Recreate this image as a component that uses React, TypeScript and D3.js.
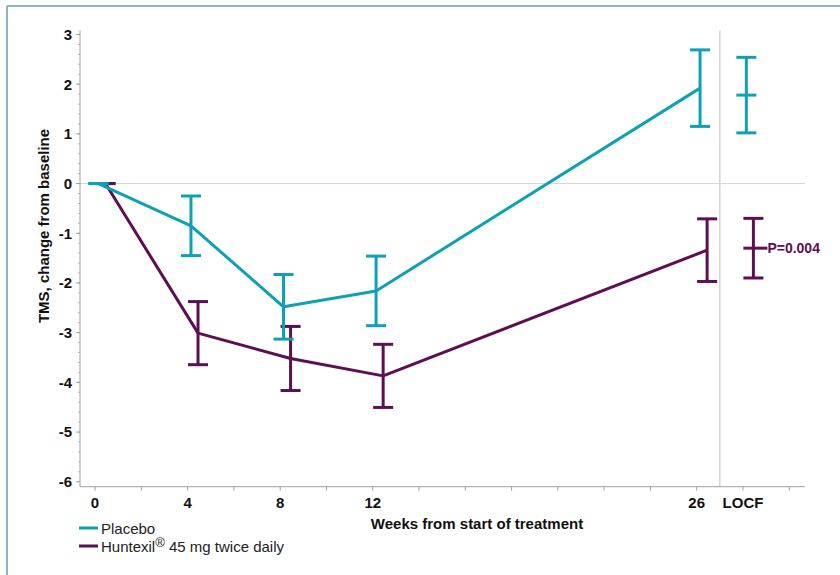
import React from "react";
import * as d3 from "d3";

const weeks = [0, 4, 8, 12, 26];
const placeboMean = [0, -0.85, -2.48, -2.16, 1.92];
const placeboErr = [0, 0.6, 0.65, 0.7, 0.77];
const huntexilMean = [0, -3.01, -3.52, -3.87, -1.34];
const huntexilErr = [0, 0.635, 0.645, 0.635, 0.63];
const locfPos = 28;
const placeboLocf = { mean: 1.78, err: 0.76 };
const huntexilLocf = { mean: -1.3, err: 0.6 };
const xTickLabels = [
  { v: 0, label: "0" },
  { v: 4, label: "4" },
  { v: 8, label: "8" },
  { v: 12, label: "12" },
  { v: 26, label: "26" },
  { v: 28, label: "LOCF" },
];
const yTicks = [3, 2, 1, 0, -1, -2, -3, -4, -5, -6];
const pValue = "P=0.004";

const TEAL = "#0ea1b4";
const PURPLE = "#5e0e53";
const FONT = "'Liberation Sans', Arial, sans-serif";

export default function App() {
  const W = 840, H = 575;
  const x = d3.scaleLinear().domain([-0.65, 30.68]).range([80, 805]);
  const y = d3.scaleLinear().domain([3.08, -6.1]).range([30.5, 486.7]);
  const offT = 0.145, offP = 0.45;
  const cap = 10;

  const line = d3
    .line<[number, number]>()
    .x((d) => x(d[0]))
    .y((d) => y(d[1]));

  const tealPts: [number, number][] = weeks.map((w, i) => [w + offT, placeboMean[i]]);
  const purplePts: [number, number][] = weeks.map((w, i) => [w + offP, huntexilMean[i]]);

  const minorY = d3.range(-6, 3.001, 0.2).map((v) => Math.round(v * 10) / 10);
  const xTicks = d3.range(0, 31, 2);

  const errBar = (xv: number, m: number, e: number, color: string, key: string, meanTick = false, tickExtra = 0) => {
    const cx = x(xv);
    return (
      <g key={key} stroke={color} strokeWidth={3} fill="none">
        <line x1={cx} x2={cx} y1={y(m + e)} y2={y(m - e)} />
        <line x1={cx - cap} x2={cx + cap} y1={y(m + e)} y2={y(m + e)} />
        <line x1={cx - cap} x2={cx + cap} y1={y(m - e)} y2={y(m - e)} />
        {meanTick && <line x1={cx - cap} x2={cx + cap + tickExtra} y1={y(m)} y2={y(m)} />}
      </g>
    );
  };

  return (
    <svg width={W} height={H} style={{ display: "block", position: "absolute", left: 0, top: 0 }} fontFamily={FONT}>
      <rect x={0} y={0} width={W} height={H} fill="#fff" />
      {/* frame */}
      <line x1={7} x2={W} y1={6} y2={6} stroke="#8fb2c7" strokeWidth={2} />
      <line x1={7} x2={7} y1={6} y2={H} stroke="#8fb2c7" strokeWidth={2} />

      {/* zero line and separator */}
      <line x1={x.range()[0]} x2={x.range()[1]} y1={y(0)} y2={y(0)} stroke="#d4d4d4" strokeWidth={1} />
      <line x1={x(27)} x2={x(27)} y1={y.range()[0]} y2={y.range()[1]} stroke="#d4d4d4" strokeWidth={1.5} />

      {/* y axis */}
      <line x1={80} x2={80} y1={y.range()[0]} y2={y.range()[1]} stroke="#a0a0a0" strokeWidth={1} />
      {minorY.map((v) => (
        <line key={"m" + v} x1={78} x2={80} y1={y(v)} y2={y(v)} stroke="#b0b0b0" strokeWidth={1} />
      ))}
      {yTicks.map((v) => (
        <g key={"y" + v}>
          <line x1={76} x2={80} y1={y(v)} y2={y(v)} stroke="#a0a0a0" strokeWidth={1} />
          <text x={72} y={y(v)} dy="0.36em" textAnchor="end" fontSize={15} fontWeight="bold" fill="#111">
            {v}
          </text>
        </g>
      ))}

      {/* x axis */}
      <line x1={80} x2={805} y1={y.range()[1]} y2={y.range()[1]} stroke="#a0a0a0" strokeWidth={1} />
      {xTicks.map((v) => (
        <line key={"x" + v} x1={x(v)} x2={x(v)} y1={y.range()[1]} y2={y.range()[1] + 4} stroke="#a0a0a0" strokeWidth={1} />
      ))}
      {xTickLabels.map((t) => (
        <text key={"xl" + t.label} x={x(t.v)} y={507.5} textAnchor="middle" fontSize={15} fontWeight="bold" fill="#111">
          {t.label}
        </text>
      ))}

      {/* titles */}
      <text x={477} y={528.5} textAnchor="middle" fontSize={15} fontWeight="bold" fill="#111">
        Weeks from start of treatment
      </text>
      <text transform="translate(49,226) rotate(-90)" textAnchor="middle" fontSize={15} fontWeight="bold" fill="#111">
        TMS, change from baseline
      </text>

      {/* series */}
      <path d={line(purplePts) || ""} fill="none" stroke={PURPLE} strokeWidth={3} strokeLinejoin="round" />
      {weeks.map((w, i) => errBar(w + offP, huntexilMean[i], huntexilErr[i], PURPLE, "pe" + i))}
      <path d={line(tealPts) || ""} fill="none" stroke={TEAL} strokeWidth={3} strokeLinejoin="round" />
      {weeks.map((w, i) => errBar(w + offT, placeboMean[i], placeboErr[i], TEAL, "te" + i))}

      {errBar(locfPos + offT, placeboLocf.mean, placeboLocf.err, TEAL, "tl", true)}
      {errBar(locfPos + offP, huntexilLocf.mean, huntexilLocf.err, PURPLE, "pl", true, 4)}
      <text x={x(locfPos + offP) + 14} y={y(huntexilLocf.mean)} dy="0.36em" fontSize={14} fontWeight="bold" fill={PURPLE}>
        {pValue}
      </text>

      {/* legend */}
      <line x1={79} x2={98} y1={528} y2={528} stroke={TEAL} strokeWidth={3} />
      <text x={101} y={533.5} fontSize={15} fill="#222">Placebo</text>
      <line x1={79} x2={98} y1={546} y2={546} stroke={PURPLE} strokeWidth={3} />
      <text x={101} y={551.5} fontSize={15} fill="#222">
        Huntexil
        <tspan fontSize={13} dy={-5}>®</tspan>
        <tspan dy={5}> 45 mg twice daily</tspan>
      </text>
    </svg>
  );
}
